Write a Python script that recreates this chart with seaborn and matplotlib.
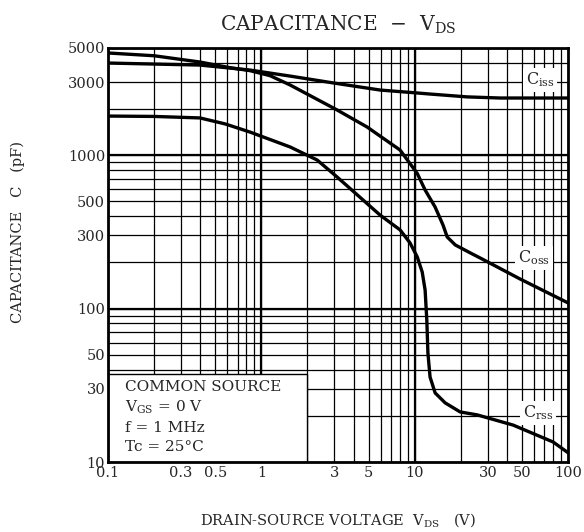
import numpy as np
import pandas as pd
import matplotlib
matplotlib.use("Agg")
import matplotlib.pyplot as plt
from matplotlib.patches import Rectangle
from matplotlib.ticker import NullFormatter
import seaborn as sns

# ---- data ----
ciss_v = [0.1, 0.398, 0.843, 1.54, 2.94, 5.95, 10.4, 12.6, 22.0, 36.1, 100]
ciss_c = [3990, 3870, 3590, 3280, 2960, 2660, 2545, 2505, 2400, 2360, 2360]

coss_v = [0.1, 0.2, 0.398, 0.625, 0.843, 1.14, 1.54, 3.12, 4.89, 8.03, 10.4, 11.7, 13.6,
          15.3, 16.3, 18.4, 23.0, 26.7, 48.7, 100]
coss_c = [4640, 4450, 4050, 3720, 3560, 3300, 2870, 1972, 1528, 1081, 760, 593, 459,
          351, 293, 260, 231, 214, 156, 109]

crss_v = [0.1, 0.2, 0.398, 0.58, 0.843, 1.54, 2.31, 3.12, 5.95, 8.03, 9.33, 10.4, 11.2,
          11.7, 12.0, 12.2, 12.6, 13.6, 15.8, 19.8, 25.5, 43.9, 80, 100]
crss_c = [1800, 1790, 1750, 1600, 1416, 1132, 931, 721, 407, 326, 268, 217, 173,
          132, 84, 51.4, 35.8, 28.2, 24.3, 21.2, 20.3, 17.4, 13.5, 11.5]

series_names = ["Ciss", "Coss", "Crss"]
series_labels = [r"$\mathregular{C_{iss}}$", r"$\mathregular{C_{oss}}$", r"$\mathregular{C_{rss}}$"]
label_pos = [(66, 3100), (60, 215), (64, 21)]

xticks = [0.1, 0.3, 0.5, 1, 3, 5, 10, 30, 50, 100]
xticklabels = ["0.1", "0.3", "0.5", "1", "3", "5", "10", "30", "50", "100"]
yticks = [10, 30, 50, 100, 300, 500, 1000, 3000, 5000]
yticklabels = ["10", "30", "50", "100", "300", "500", "1000", "3000", "5000"]

conditions = ["COMMON SOURCE", r"$\mathregular{V_{GS}}$ = 0 V", "f = 1 MHz", "Tc = 25°C"]

title = r"CAPACITANCE  $-$  $\mathregular{V_{DS}}$"
xlabel = r"DRAIN-SOURCE VOLTAGE  $\mathregular{V_{DS}}$   (V)"
ylabel = "CAPACITANCE   C   (pF)"

# ---- build table ----
df = pd.concat([
    pd.DataFrame({"V": ciss_v, "C": ciss_c, "series": "Ciss"}),
    pd.DataFrame({"V": coss_v, "C": coss_c, "series": "Coss"}),
    pd.DataFrame({"V": crss_v, "C": crss_c, "series": "Crss"}),
], ignore_index=True)

sns.set_style("white")
plt.rcParams["font.family"] = ["DejaVu Serif"]
plt.rcParams["mathtext.fontset"] = "dejavuserif"
plt.rcParams["mathtext.default"] = "regular"

fig = plt.figure(figsize=(5.84, 5.32), dpi=100)
ax = fig.add_axes([108 / 584, 1 - 462 / 532, 460 / 584, 414 / 532])
ax.set_xscale("log")
ax.set_yscale("log")

sns.lineplot(data=df, x="V", y="C", hue="series", hue_order=series_names,
             palette=["black"] * 3, linewidth=2.4, sort=False, legend=False,
             ax=ax, zorder=5)
ax.set_xlim(0.1, 100)
ax.set_ylim(10, 5000)
ax.set_xlabel("")
ax.set_ylabel("")

# grid
minor_x = [m * 10.0 ** e for e in (-1, 0, 1) for m in range(2, 10)]
minor_y = [m * 10.0 ** e for e in (1, 2, 3) for m in range(2, 10) if m * 10.0 ** e < 5000]
ax.set_xticks(xticks, labels=xticklabels)
ax.set_yticks(yticks, labels=yticklabels)
ax.set_xticks(minor_x, minor=True)
ax.set_yticks(minor_y, minor=True)
ax.xaxis.set_minor_formatter(NullFormatter())
ax.yaxis.set_minor_formatter(NullFormatter())
ax.grid(which="both", color="black", linewidth=0.9)
for d in (1, 10):
    ax.axvline(d, color="black", linewidth=1.6, zorder=1)
for d in (100, 1000):
    ax.axhline(d, color="black", linewidth=1.6, zorder=1)
ax.tick_params(which="both", length=0, labelsize=10.5, pad=3)
ax.tick_params(axis="y", pad=2)
for s in ax.spines.values():
    s.set_linewidth(2.0)
    s.set_color("black")
    s.set_visible(True)
    s.set_zorder(10)

# conditions box
ax.add_patch(Rectangle((0.1, 10), 1.9, 27.5, facecolor="white", edgecolor="black",
                       linewidth=1.0, zorder=3))
for txt, yy in zip(conditions, [0.181, 0.132, 0.083, 0.036]):
    ax.text(0.037, yy, txt, transform=ax.transAxes, fontsize=11, va="center",
            ha="left", zorder=6)

# curve labels
for lab, (xx, yy) in zip(series_labels, label_pos):
    ax.text(xx, yy, lab, fontsize=11.5, ha="center", va="center", zorder=6,
            bbox=dict(facecolor="white", edgecolor="none", pad=2.0))

fig.text(338 / 584, 1 - 25 / 532, title, ha="center", va="center", fontsize=14.5)
fig.text(338 / 584, 1 - 520 / 532, xlabel, ha="center", va="center", fontsize=10.5)
fig.text(18 / 584, 1 - 232 / 532, ylabel, ha="center", va="center", fontsize=10.5,
         rotation=90)

fig.savefig("out.png", dpi=100, facecolor="white")
